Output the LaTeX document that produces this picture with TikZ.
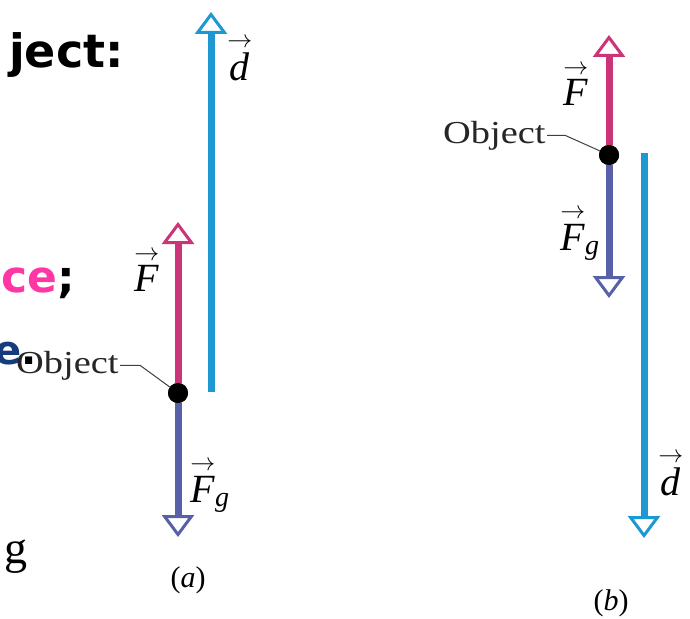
\documentclass[tikz,border=0pt]{standalone}
\usepackage{fontspec}
\usepackage{amsmath}
\setmainfont{Liberation Serif}
\newfontfamily\slidefont{DejaVu Sans}
\usetikzlibrary{arrows.meta}
\definecolor{dcol}{RGB}{30,152,210}
\definecolor{fcol}{RGB}{204,52,120}
\definecolor{gcol}{RGB}{88,96,168}
\definecolor{pinktxt}{RGB}{255,55,165}
\definecolor{navytxt}{RGB}{20,60,125}
\newcommand\vecsym[2]{\ensuremath{\overset{\rightarrow}{\textit{#1}}_{\textit{#2}}}}
\begin{document}
\begin{tikzpicture}[x=1pt,y=-1pt,
  vecarrow/.style={line width=7pt,-{Triangle[open,length=22pt,width=32pt,line width=3pt]}},
  dot/.style={circle,fill=black,inner sep=0pt,minimum size=20pt},
  objtxt/.style={font=\fontsize{32}{32}\selectfont,inner sep=1pt,xscale=1.2,text=black!85},
  leader/.style={line width=1pt,black!75},
  veclab/.style={font=\fontsize{40}{40}\selectfont,inner sep=0pt},
  caplab/.style={font=\fontsize{30}{30}\selectfont,inner sep=0pt},
  slidetxt/.style={font=\slidefont\bfseries\fontsize{46}{46}\selectfont,inner sep=0pt}]
\useasboundingbox (0,0) rectangle (690,618);
\fill[white] (0,0) rectangle (690,618);

% slide text fragments
\node[slidetxt,anchor=base east] (t1) at (124,67) {ject:};
\node[slidetxt,font=\slidefont\bfseries\fontsize{44}{44}\selectfont,anchor=base east] (t2) at (75,292) {\textcolor{pinktxt}{ce};};
\node[slidetxt,font=\slidefont\bfseries\fontsize{40}{40}\selectfont,anchor=base east] (t3) at (37,364) {\textcolor{navytxt}{e}.};
\node[font=\fontsize{46}{46}\selectfont,inner sep=0pt,anchor=base east] (t4) at (28,563) {g};

% ---------- (a) ----------
\node[dot] (oa) at (178,393) {};
\coordinate (fa) at (178,222);
\coordinate (ga) at (178,537);
\coordinate (das) at (211,392);
\coordinate (dae) at (211,12);
\draw[vecarrow,dcol] (das) -- (dae);
\draw[vecarrow,fcol] (oa) -- (fa);
\draw[vecarrow,gcol] (oa) -- (ga);
\node[dot] at (oa) {};
\node[objtxt,anchor=base east] (la) at (120,373) {Object};
\draw[leader] (la.east) -- ++(20,0) -- (oa);
\node[veclab] (lFa) at (147,272) {\vecsym{F}{}};
\node[veclab] (lGa) at (210,486) {\vecsym{F}{g}};
\node[veclab] (lda) at (240,60) {\vecsym{d}{}};
\node[caplab] (capa) at (188,580) {(\textit{a})};

% ---------- (b) ----------
\node[dot] (ob) at (609,155) {};
\coordinate (fb) at (609,35);
\coordinate (gb) at (609,298);
\coordinate (dbs) at (644,153);
\coordinate (dbe) at (644,538);
\draw[vecarrow,dcol] (dbs) -- (dbe);
\draw[vecarrow,fcol] (ob) -- (fb);
\draw[vecarrow,gcol] (ob) -- (gb);
\node[dot] at (ob) {};
\node[objtxt,anchor=base east] (lb) at (547,143) {Object};
\draw[leader] (lb.east) -- ++(18,0) -- (ob);
\node[veclab] (lFb) at (576,86) {\vecsym{F}{}};
\node[veclab] (lGb) at (580,234) {\vecsym{F}{g}};
\node[veclab] (ldb) at (671,475) {\vecsym{d}{}};
\node[caplab] (capb) at (611,603) {(\textit{b})};
\end{tikzpicture}
\end{document}
